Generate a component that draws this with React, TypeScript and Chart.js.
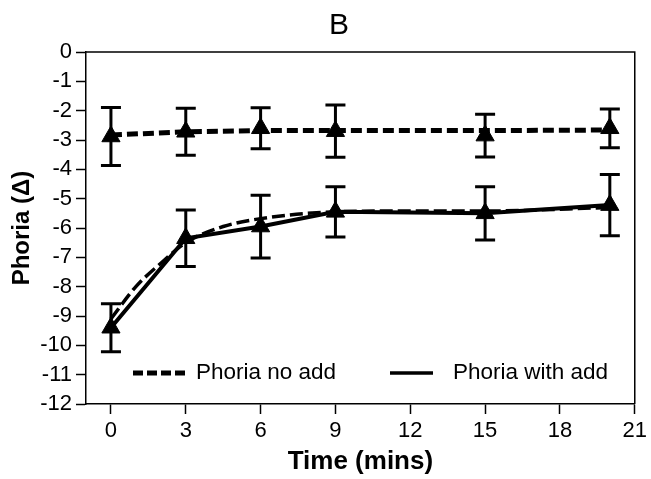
import React, { useEffect, useRef } from "react";
import { Chart, registerables } from "chart.js";

Chart.register(...registerables);

// ---- data ----
const times = [0, 3, 6, 9, 15, 20];
const noAddMean = [-2.88, -2.72, -2.6, -2.7, -2.85, -2.6];
const noAddErr = [0.99, 0.8, 0.7, 0.89, 0.73, 0.66];
const noAddLine = [-2.83, -2.72, -2.68, -2.68, -2.68, -2.66];
const withAddMean = [-9.4, -6.35, -5.95, -5.45, -5.5, -5.22];
const withAddErr = [0.82, 0.96, 1.07, 0.86, 0.91, 1.04];
const fitTimes = [0, 1, 2, 3, 4.5, 6, 9, 12, 15, 20];
const fitValues = [-9.1, -8.0, -7.2, -6.5, -5.95, -5.68, -5.45, -5.42, -5.42, -5.3];

const chartTitle = "B";
const xTitle = "Time (mins)";
const yTitle = "Phoria (\u0394)";
const legendNoAdd = "Phoria no add";
const legendWithAdd = "Phoria with add";

const FONT = "'Liberation Sans', Arial, Helvetica, sans-serif";

const toPts = (xs: number[], ys: number[]) => xs.map((x, i) => ({ x, y: ys[i] }));

const errorBarPlugin = {
  id: "errorBars",
  beforeDatasetsDraw(chart: any) {
    const ctx = chart.ctx;
    const yScale = chart.scales.y;
    chart.data.datasets.forEach((ds: any, i: number) => {
      if (!ds.errors) return;
      const meta = chart.getDatasetMeta(i);
      ctx.save();
      ctx.strokeStyle = "#000";
      ctx.lineWidth = 3;
      ctx.lineCap = "butt";
      meta.data.forEach((pt: any, j: number) => {
        const v = ds.data[j].y;
        const e = ds.errors[j];
        const x = pt.x;
        const yTop = yScale.getPixelForValue(v + e);
        const yBot = yScale.getPixelForValue(v - e);
        const half = 10;
        ctx.beginPath();
        ctx.moveTo(x, yTop);
        ctx.lineTo(x, yBot);
        ctx.moveTo(x - half, yTop);
        ctx.lineTo(x + half, yTop);
        ctx.moveTo(x - half, yBot);
        ctx.lineTo(x + half, yBot);
        ctx.stroke();
      });
      ctx.restore();
    });
  },
};

const decorPlugin = {
  id: "decor",
  afterDraw(chart: any) {
    const ctx = chart.ctx;
    const a = chart.chartArea;
    ctx.save();
    // frame (top & right)
    ctx.strokeStyle = "#000";
    ctx.lineWidth = 1.5;
    ctx.beginPath();
    ctx.moveTo(a.left, a.top);
    ctx.lineTo(a.right, a.top);
    ctx.lineTo(a.right, a.bottom);
    ctx.stroke();

    // title
    ctx.fillStyle = "#000";
    ctx.font = `30px ${FONT}`;
    ctx.textAlign = "center";
    ctx.textBaseline = "middle";
    ctx.fillText(chartTitle, 339, a.top - 26);

    // legend
    const ly = a.bottom - 31;
    ctx.font = `22.5px ${FONT}`;
    ctx.textAlign = "left";
    ctx.lineWidth = 5;
    ctx.setLineDash([10, 4]);
    ctx.beginPath();
    ctx.moveTo(a.left + 47, ly);
    ctx.lineTo(a.left + 101, ly);
    ctx.stroke();
    ctx.setLineDash([]);
    ctx.fillText(legendNoAdd, a.left + 110, ly);
    ctx.lineWidth = 3.5;
    ctx.beginPath();
    ctx.moveTo(a.left + 304, ly);
    ctx.lineTo(a.left + 347, ly);
    ctx.stroke();
    ctx.fillText(legendWithAdd, a.left + 367, ly);
    ctx.restore();
  },
};

export default function App() {
  const ref = useRef<HTMLCanvasElement | null>(null);

  useEffect(() => {
    if (!ref.current) return;
    document.body.style.margin = "0";
    const chart = new Chart(ref.current, {
      type: "scatter",
      data: {
        datasets: [
          {
            label: legendNoAdd,
            data: toPts(times, noAddLine),
            showLine: true,
            borderColor: "#000",
            borderWidth: 5,
            borderDash: [11, 5],
            pointRadius: 0,
          } as any,
          {
            label: "no add points",
            data: toPts(times, noAddMean),
            errors: noAddErr,
            showLine: false,
            pointStyle: "triangle",
            pointRadius: 10.5,
            backgroundColor: "#000",
            borderColor: "#000",
            borderWidth: 1,
          } as any,
          {
            label: "fit",
            data: toPts(fitTimes, fitValues),
            showLine: true,
            borderColor: "#000",
            borderWidth: 3.5,
            borderDash: [13, 5],
            pointRadius: 0,
            cubicInterpolationMode: "monotone",
          } as any,
          {
            label: legendWithAdd,
            data: toPts(times, withAddMean),
            errors: withAddErr,
            showLine: true,
            borderColor: "#000",
            borderWidth: 4,
            pointStyle: "triangle",
            pointRadius: 10.5,
            backgroundColor: "#000",
            pointBorderColor: "#000",
            pointBorderWidth: 1,
          } as any,
        ],
      },
      options: {
        responsive: false,
        animation: false,
        layout: { padding: { top: 52, right: 12, left: 0, bottom: 0 } },
        plugins: {
          legend: { display: false },
          title: { display: false },
          tooltip: { enabled: false },
        },
        scales: {
          x: {
            type: "linear",
            min: -1,
            max: 21,
            afterFit: (s: any) => {
              s.height = 75;
            },
            afterBuildTicks: (s: any) => {
              s.ticks = s.ticks.filter((t: any) => t.value >= 0);
            },
            ticks: {
              stepSize: 3,
              includeBounds: false,
              autoSkip: false,
              color: "#000",
              font: { family: FONT, size: 22 },
              padding: 4,
              maxRotation: 0,
            },
            grid: {
              drawOnChartArea: false,
              drawTicks: true,
              tickLength: 10,
              tickWidth: 1.5,
              tickColor: "#000",
            },
            border: { display: true, color: "#000", width: 1.5 },
            title: {
              display: true,
              text: xTitle,
              color: "#000",
              font: { family: FONT, size: 26, weight: "bold" },
              padding: { top: 0, bottom: 2 },
            },
          },
          y: {
            type: "linear",
            min: -12,
            max: 0,
            afterFit: (s: any) => {
              s.width = 86;
            },
            ticks: {
              stepSize: 1,
              autoSkip: false,
              color: "#000",
              font: { family: FONT, size: 22 },
              padding: 4,
            },
            grid: {
              drawOnChartArea: false,
              drawTicks: true,
              tickLength: 10,
              tickWidth: 1.5,
              tickColor: "#000",
            },
            border: { display: true, color: "#000", width: 1.5 },
            title: {
              display: true,
              text: yTitle,
              color: "#000",
              font: { family: FONT, size: 24, weight: "bold" },
              padding: { top: 8, bottom: 0 },
            },
          },
        },
      } as any,
      plugins: [errorBarPlugin, decorPlugin],
    });
    return () => chart.destroy();
  }, []);

  return (
    <div style={{ position: "fixed", left: 0, top: 0, width: 651, height: 479, background: "#fff" }}>
      <canvas ref={ref} width={651} height={479} />
    </div>
  );
}
